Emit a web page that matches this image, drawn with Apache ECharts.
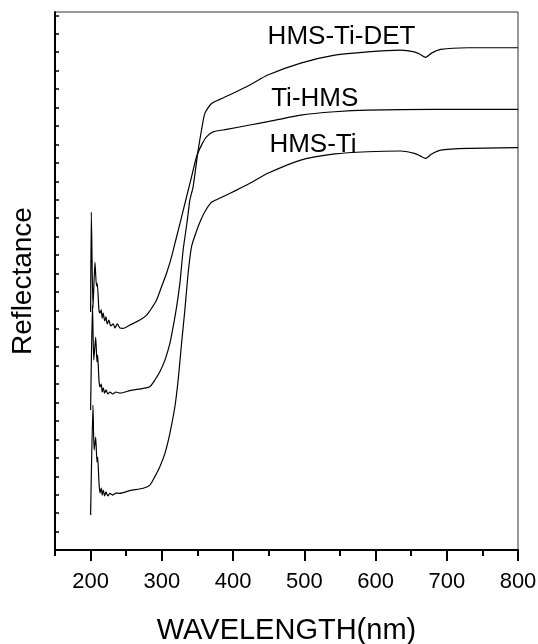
<!DOCTYPE html>
<html>
<head>
<meta charset="utf-8">
<script src="https://cdn.jsdelivr.net/npm/echarts@6/dist/echarts.min.js"></script>
<style>html,body{margin:0;padding:0;background:#fff;}#c{width:538px;height:644px;}</style>
</head>
<body>
<div id="c"></div>
<script>
// Wavelength (nm) and reflectance (arbitrary units, offset stacked) per sample
var tiHmsWl = [200,201,203.3,206.1,208.2,209.3,211.7,213.1,214.9,216.3,217.7,219.7,221.5,223.3,225.7,228.1,231.8,234.1,237.4,241.2,245.8,255.2,269.2,278.6,285.6,292.6,299.6,306.6,313.7,320.7,326.7,334.7,341.7,348.7,355.7,362.7,372,390.8,423.5,448.7,495,542.7,588.9,682.5,800];
var tiHmsR  = [12.91,18.33,13.12,15.62,14.32,14.48,13.02,12.85,13.02,12.58,12.85,12.42,12.64,12.26,12.47,12.15,12.26,12.04,12.26,12.04,12.02,12.20,12.47,12.74,13.11,13.56,14.28,15.01,15.91,16.99,17.90,19.16,20.24,21.33,21.96,22.41,22.68,22.81,23.05,23.23,23.59,23.77,23.86,23.90,23.90];

var hmsTiDetWl = [200,202.6,204.4,207.1,208.9,209.9,211.7,213.1,214.9,216.3,217.7,219.7,221.5,224.3,227.1,231.3,235.5,241.2,255.2,273.8,283.2,290.2,297.2,304.3,311.3,315.9,320.7,325.3,329.9,335.8,339.3,343.9,351,355.7,360.4,369.7,381.4,400,423.5,448.7,495,542.7,588.9,635.2,654.4,661.9,670.3,678.7,691.3,729.2,800];
var hmsTiDetR  = [7.59,13.29,10.30,11.55,10.20,10.57,9.22,8.84,9.00,8.57,8.79,8.51,8.68,8.46,8.57,8.46,8.57,8.51,8.64,8.77,8.86,9.22,9.67,10.30,11.21,12.11,13.19,14.46,16.27,17.90,18.98,19.70,21.69,22.78,23.68,24.22,24.44,24.77,25.22,25.76,26.41,26.84,27.02,27.11,27.02,26.90,26.72,26.95,27.15,27.24,27.24];

var hmsTiWl = [200,203.3,204.9,207.1,208.9,209.9,211.7,213.1,214.9,216.3,217.7,219.7,221.5,224.3,227.1,231.3,235.5,241.2,255.2,273.8,283.2,290.2,297.2,304.3,311.3,318.3,322.9,327.7,332.3,336.9,341.7,347.7,354.7,361.8,370.2,385.6,404.8,423.5,448.7,495,542.7,588.9,635.2,654.4,661.9,670.3,678.7,691.3,729.2,800];
var hmsTiR  = [1.90,7.86,5.42,6.13,4.77,5.04,3.69,3.09,3.36,2.98,3.25,2.93,3.15,2.93,3.07,2.98,3.09,3.07,3.22,3.35,3.52,3.98,4.52,5.24,6.33,7.77,9.22,11.21,13.02,15.01,16.45,17.19,17.90,18.44,18.87,19.16,19.52,19.89,20.43,21.15,21.48,21.60,21.64,21.51,21.39,21.24,21.48,21.69,21.78,21.82];

var seriesNames = ['Ti-HMS', 'HMS-Ti-DET', 'HMS-Ti'];
var labelNames = ['HMS-Ti-DET', 'Ti-HMS', 'HMS-Ti'];
var labelWl = [448.5, 453.5, 451];
var labelR  = [27.86, 24.45, 21.95];

var majorTicks = [200,300,400,500,600,700,800];
var minorTicks = [150,250,350,450,550,650,750];
var yTicks = [];
for (var k = 1; k <= 29; k++) yTicks.push(k);

function zip(a, b) { return a.map(function (v, i) { return [v, b[i]]; }); }

var font = 'Arial, "Liberation Sans", Helvetica, sans-serif';
var chart = echarts.init(document.getElementById('c'), null, {renderer: 'canvas'});

var lineCommon = {
  type: 'line', showSymbol: false, smooth: 0.2, animation: false,
  lineStyle: {color: '#000', width: 1.2}, itemStyle: {color: '#000'}
};

var series = [
  Object.assign({}, lineCommon, {name: seriesNames[0], data: zip(tiHmsWl, tiHmsR)}),
  Object.assign({}, lineCommon, {name: seriesNames[1], data: zip(hmsTiDetWl, hmsTiDetR)}),
  Object.assign({}, lineCommon, {name: seriesNames[2], data: zip(hmsTiWl, hmsTiR)}),
  {
    type: 'scatter', symbolSize: 0, silent: true, animation: false,
    itemStyle: {color: '#000', opacity: 1},
    data: labelNames.map(function (n, i) { return {name: n, value: [labelWl[i], labelR[i]]}; }),
    label: {
      show: true, position: [0, 0], align: 'left', verticalAlign: 'middle',
      formatter: function (p) { return p.name; },
      fontFamily: font, fontSize: 26, color: '#000', opacity: 1, textBorderWidth: 0
    }
  }
];

chart.setOption({
  animation: false,
  backgroundColor: '#fff',
  grid: {left: 55, top: 12, right: 20, bottom: 94, outerBoundsMode: 'none', containLabel: false,
         show: true, borderColor: '#333', borderWidth: 1, backgroundColor: 'transparent'},
  xAxis: [{
    type: 'value', min: 150, max: 800, position: 'bottom',
    name: 'WAVELENGTH(nm)', nameLocation: 'middle', nameGap: 66,
    nameTextStyle: {fontFamily: font, fontSize: 29, color: '#000'},
    axisLine: {show: true, lineStyle: {color: '#000', width: 2}},
    axisTick: {show: true, customValues: majorTicks, length: 11, lineStyle: {color: '#000', width: 2}},
    axisLabel: {show: true, customValues: majorTicks, margin: 21, fontFamily: font, fontSize: 22, color: '#000'},
    splitLine: {show: false}
  }, {
    type: 'value', min: 150, max: 800, position: 'bottom',
    axisLine: {show: false},
    axisTick: {show: true, customValues: minorTicks, length: 6, lineStyle: {color: '#000', width: 2}},
    axisLabel: {show: false},
    splitLine: {show: false}
  }],
  yAxis: {
    type: 'value', min: 0, max: 29.18,
    name: 'Reflectance', nameLocation: 'middle', nameGap: 18,
    nameTextStyle: {fontFamily: font, fontSize: 28, color: '#000'},
    axisLine: {show: true, lineStyle: {color: '#000', width: 2}},
    axisTick: {show: true, inside: true, customValues: yTicks, length: 4, lineStyle: {color: '#000', width: 1.5}},
    axisLabel: {show: false},
    splitLine: {show: false}
  },
  series: series
});
</script>
</body>
</html>
